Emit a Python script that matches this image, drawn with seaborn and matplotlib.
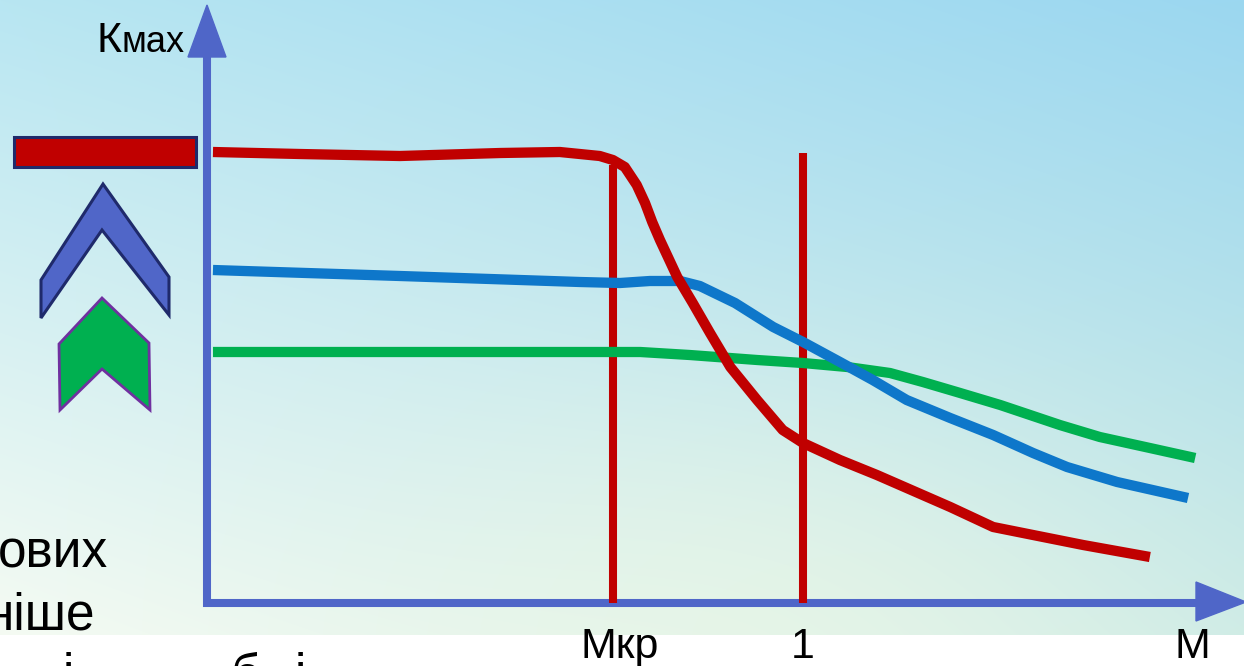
import numpy as np
import pandas as pd
import seaborn as sns
import matplotlib.pyplot as plt
from matplotlib.patches import Polygon, Rectangle

# --- data (M on x, Kmax on y, arbitrary units) ---
red_m = [0.010, 0.156, 0.324, 0.492, 0.592, 0.659, 0.681, 0.701, 0.721, 0.735, 0.747,
         0.760, 0.789, 0.815, 0.844, 0.878, 0.923, 0.966, 1.000, 1.062, 1.124,
         1.247, 1.319, 1.386, 1.470, 1.582]
red_k = [4.51, 4.49, 4.47, 4.50, 4.51, 4.47, 4.43, 4.36, 4.18, 4.00, 3.81,
         3.63, 3.26, 3.00, 2.70, 2.36, 2.03, 1.73, 1.60, 1.43, 1.28,
         0.96, 0.76, 0.68, 0.58, 0.46]

blue_m = [0.010, 0.324, 0.626, 0.693, 0.743, 0.794, 0.827, 0.886, 0.950, 1.000,
          1.062, 1.117, 1.174, 1.247, 1.319, 1.386, 1.443, 1.527, 1.646]
blue_k = [3.33, 3.27, 3.21, 3.20, 3.22, 3.22, 3.17, 3.00, 2.76, 2.61,
          2.41, 2.23, 2.03, 1.85, 1.68, 1.50, 1.36, 1.21, 1.05]

green_m = [0.010, 0.727, 0.810, 0.923, 1.000, 1.074, 1.146, 1.201, 1.258, 1.331,
           1.431, 1.498, 1.582, 1.658]
green_k = [2.51, 2.51, 2.48, 2.43, 2.40, 2.36, 2.30, 2.21, 2.11, 1.98,
           1.78, 1.66, 1.55, 1.45]

m_crit = 0.681
m_one = 1.0
vline_top = [4.38, 4.50]  # top of the two vertical markers
tick_pos = [0.693, 1.0, 1.653]
tick_labels = ['Мкр', '1', 'М']

RED = '#C00000'
BLUE = '#0E77CA'
GREEN = '#00B050'
AXIS = '#4F66C8'

sns.set_theme(style='white')
plt.rcParams['font.family'] = ['Liberation Sans', 'DejaVu Sans']

W, H = 1244, 666
fig = plt.figure(figsize=(W / 100, H / 100), dpi=100)

# background overlay in pixel coordinates
bg = fig.add_axes([0, 0, 1, 1])
bg.set_xlim(0, W)
bg.set_ylim(H, 0)
bg.axis('off')

band = 635
yy, xx = np.mgrid[0:band, 0:W]
u = xx / W
v = yy / band
tl = np.array([184, 230, 242])
tr = np.array([155, 215, 240])
bl = np.array([245, 251, 243])
br = np.array([205, 235, 230])
img = (tl * ((1 - u) * (1 - v))[..., None] + tr * (u * (1 - v))[..., None]
       + bl * ((1 - u) * v)[..., None] + br * (u * v)[..., None])
# slight yellow-green tint in lower middle
g = np.exp(-(((xx - 750) / 380) ** 2 + ((yy - 620) / 220) ** 2))[..., None]
img = img * (1 - 0.5 * g) + np.array([238, 248, 228]) * 0.5 * g
bg.imshow(img / 255, extent=(0, W, band, 0), aspect='auto', zorder=0)

# axes with arrows
bg.plot([207, 207], [607, 50], color=AXIS, lw=5.8, solid_capstyle='butt', zorder=2)
bg.add_patch(Polygon([(188, 57), (226, 57), (207, 5)], closed=True, color=AXIS, zorder=2))
bg.plot([203, 1200], [603, 603], color=AXIS, lw=5.8, solid_capstyle='butt', zorder=2)
bg.add_patch(Polygon([(1196, 582), (1196, 621), (1246, 602)], closed=True, color=AXIS, zorder=2))

# left-side icons
bg.add_patch(Rectangle((14, 137), 182, 30, facecolor=RED, edgecolor='#1F2A6B', lw=2.2, zorder=3))
bg.add_patch(Polygon([(103, 184), (169, 277), (169, 315), (102, 230), (41, 318), (41, 280)],
                     closed=True, facecolor='#5066C8', edgecolor='#1F2A6B', lw=2.2, zorder=3))
bg.add_patch(Polygon([(102, 298), (149, 343), (150, 410), (102, 369), (60, 410), (59, 344)],
                     closed=True, facecolor=GREEN, edgecolor='#7030A0', lw=2.0, zorder=3))

# texts
bg.text(96, 52, 'К', fontsize=31, ha='left', va='baseline', color='black', zorder=4)
bg.text(121, 52, 'мах', fontsize=26, ha='left', va='baseline', color='black', zorder=4)
bg.text(108, 567, 'ових', fontsize=37, ha='right', va='baseline', color='black', zorder=4)
bg.text(95, 630, 'ніше', fontsize=37, ha='right', va='baseline', color='black', zorder=4)
for xp, s in [(68, 'і'), (246, 'б'), (300, 'і')]:
    bg.text(xp, 690, s, fontsize=37, ha='center', va='baseline', color='black', zorder=4)

# main data axes: origin at the axis corner
ax = fig.add_axes([207 / W, (H - 603) / H, (W - 207) / W, 603 / H])
ax.set_xlim(0, (W - 207) / 596)
ax.set_ylim(0, 6.03)
ax.patch.set_alpha(0)
for s in ax.spines.values():
    s.set_visible(False)
ax.set_yticks([])

df = pd.concat([
    pd.DataFrame({'M': red_m, 'K': red_k, 's': 'red'}),
    pd.DataFrame({'M': blue_m, 'K': blue_k, 's': 'blue'}),
    pd.DataFrame({'M': green_m, 'K': green_k, 's': 'green'}),
])
for name, col in [('green', GREEN), ('blue', BLUE), ('red', RED)]:
    sub = df[df['s'] == name]
    sns.lineplot(data=sub, x='M', y='K', color=col, lw=7.4, sort=False, ax=ax,
                 solid_joinstyle='round', solid_capstyle='butt', zorder=3)

ax.plot([m_crit, m_crit], [0, vline_top[0]], color=RED, lw=5.8, solid_capstyle='butt', zorder=2)
ax.plot([m_one, m_one], [-0.03, vline_top[1]], color=RED, lw=5.8, solid_capstyle='butt', zorder=2)

ax.set_xticks(tick_pos)
ax.set_xticklabels(tick_labels, fontsize=31, color='black')
ax.tick_params(axis='x', length=0, pad=17)
ax.set_xlabel('')
ax.set_ylabel('')

fig.savefig('out.png', dpi=100)
